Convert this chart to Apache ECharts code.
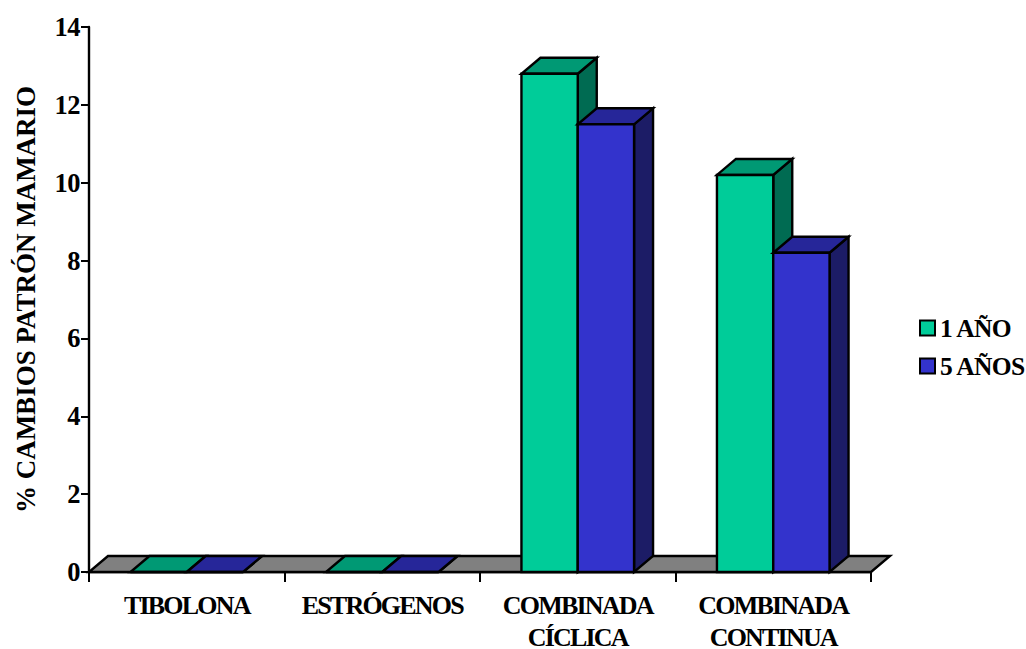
<!DOCTYPE html>
<html>
<head>
<meta charset="utf-8">
<style>
  html, body { margin: 0; padding: 0; background: #fff; }
  #chart { width: 1026px; height: 649px; }
  /* Tight setting per text size: category labels, legend, tick numbers. */
  #chart text[style*="26px"] { letter-spacing: -1.8px; }
  #chart text[style*="25.5px"] { letter-spacing: -0.7px; }
  #chart text[style*="26.5px"] { letter-spacing: -0.5px; }
</style>
<script src="https://cdn.jsdelivr.net/npm/echarts@6/dist/echarts.min.js"></script>
</head>
<body>
<div id="chart"></div>
<script>
const categories = ['TIBOLONA', 'ESTRÓGENOS', 'COMBINADA\nCÍCLICA', 'COMBINADA\nCONTINUA'];
const unoAno = [0, 0, 12.8, 10.2];
const cincoAnos = [0, 0, 11.5, 8.2];
const yTicks = { min: 0, max: 14, interval: 2 };

const FONT = '"Liberation Serif", "Times New Roman", serif';
const DEPTH_X = 19, DEPTH_Y = -16;
const BAR_SHARE = 0.288;
const OUTLINE = { stroke: '#000', lineWidth: 2.4, lineJoin: 'miter' };

// Parallelogram helper: a front edge pushed back by the fake depth.
function slab(x0, y0, x1, y1, fill) {
  return {
    type: 'polygon',
    shape: { points: [[x0, y0], [x1, y1], [x1 + DEPTH_X, y1 + DEPTH_Y], [x0 + DEPTH_X, y0 + DEPTH_Y]] },
    style: Object.assign({ fill: fill }, OUTLINE)
  };
}

// One extruded column: side, top and front faces. slot -1 sits left of the category centre, 0 right of it.
function columnRenderer(slot, front, top, side) {
  return function (params, api) {
    const base = api.coord([api.value(0), 0]);
    const tip = api.coord([api.value(0), api.value(1)]);
    const w = api.size([1, 0])[0] * BAR_SHARE;
    const x0 = base[0] + slot * w, x1 = x0 + w;
    const yTop = tip[1], yBase = base[1];
    return {
      type: 'group',
      children: [
        {
          type: 'polygon',
          shape: { points: [[x1, yTop], [x1 + DEPTH_X, yTop + DEPTH_Y], [x1 + DEPTH_X, yBase + DEPTH_Y], [x1, yBase]] },
          style: Object.assign({ fill: side }, OUTLINE)
        },
        slab(x0, yTop, x1, yTop, top),
        {
          type: 'rect',
          shape: { x: x0, y: yTop, width: w, height: yBase - yTop },
          style: Object.assign({ fill: front }, OUTLINE)
        }
      ]
    };
  };
}

// Grey floor running the whole width of the plot.
function floorRenderer(params) {
  const g = params.coordSys;
  const y = g.y + g.height;
  return slab(g.x, y, g.x + g.width, y, '#808080');
}

const boldText = { color: '#000', fontFamily: FONT, fontWeight: 'bold' };

const chart = echarts.init(document.getElementById('chart'), null, { renderer: 'svg' });
chart.setOption({
  animation: false,
  backgroundColor: '#fff',
  grid: { left: 89, top: 27, width: 782, height: 545, outerBoundsMode: 'none', containLabel: false },
  legend: {
    orient: 'vertical',
    left: 914,
    top: 310,
    itemWidth: 15,
    itemHeight: 15,
    itemGap: 12,
    icon: 'rect',
    selectedMode: false,
    data: ['1 AÑO', '5 AÑOS'],
    textStyle: Object.assign({}, boldText, { fontSize: 25.5, padding: [0, 0, 0, 0] })
  },
  xAxis: {
    type: 'category',
    data: categories,
    axisLine: { lineStyle: { color: '#000', width: 2.4 } },
    axisTick: { show: true, length: 10, lineStyle: { color: '#000', width: 2 } },
    axisLabel: Object.assign({}, boldText, { fontSize: 26, lineHeight: 32, margin: 17, interval: 0 })
  },
  yAxis: {
    type: 'value',
    min: yTicks.min,
    max: yTicks.max,
    interval: yTicks.interval,
    name: '% CAMBIOS PATRÓN MAMARIO',
    nameLocation: 'middle',
    nameGap: 50,
    nameTextStyle: Object.assign({}, boldText, { fontSize: 27 }),
    splitLine: { show: false },
    axisLine: { show: true, lineStyle: { color: '#000', width: 2.4 } },
    axisTick: { show: true, length: 8, lineStyle: { color: '#000', width: 2 } },
    axisLabel: Object.assign({}, boldText, { fontSize: 26.5, margin: 9 })
  },
  series: [
    { type: 'custom', name: 'suelo', z: 1, silent: true, clip: false, data: [[0, 0]], renderItem: floorRenderer },
    {
      type: 'custom', name: '1 AÑO', z: 2, clip: false,
      itemStyle: { color: '#00CC99', borderColor: '#000', borderWidth: 2 },
      data: unoAno.map((v, i) => [i, v]),
      encode: { x: 0, y: 1 },
      renderItem: columnRenderer(-1, '#00CC99', '#009974', '#006B52')
    },
    {
      type: 'custom', name: '5 AÑOS', z: 3, clip: false,
      itemStyle: { color: '#3333CC', borderColor: '#000', borderWidth: 2 },
      data: cincoAnos.map((v, i) => [i, v]),
      encode: { x: 0, y: 1 },
      renderItem: columnRenderer(0, '#3333CC', '#262699', '#1C1C66')
    }
  ]
});
</script>
</body>
</html>
